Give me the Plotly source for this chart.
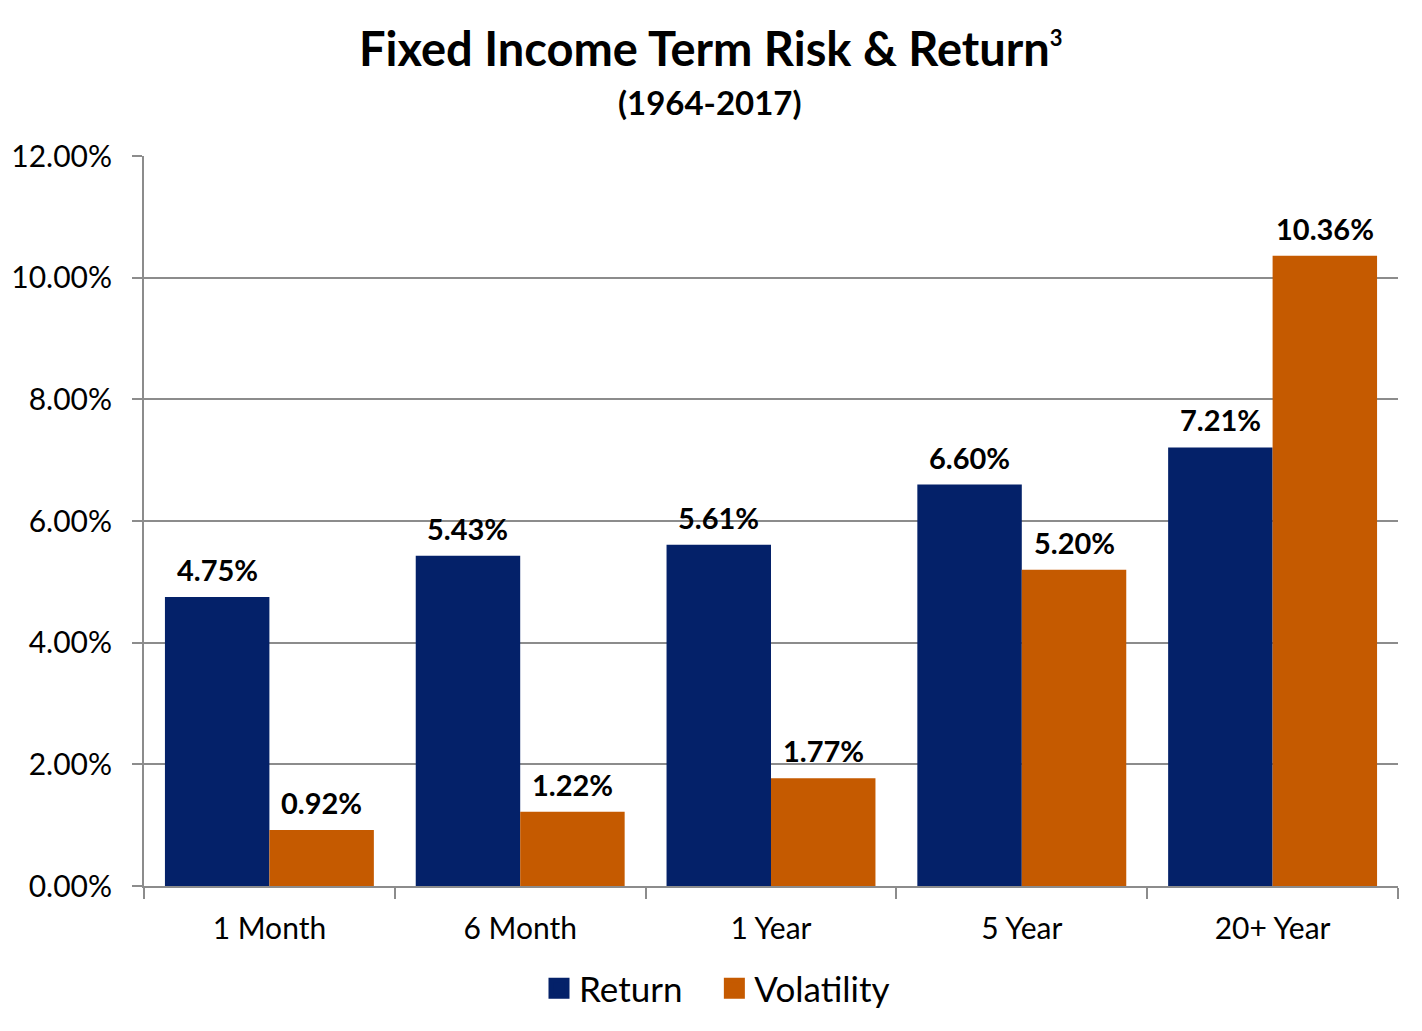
import plotly.graph_objects as go

# chart data
terms = ['1 Month', '6 Month', '1 Year', '5 Year', '20+ Year']
returns = [4.75, 5.43, 5.61, 6.60, 7.21]
volatility = [0.92, 1.22, 1.77, 5.20, 10.36]
y_ticks = [0, 2, 4, 6, 8, 10, 12]

NAVY = '#042169'
ORANGE = '#C55A00'
GRID = '#8C8C8C'
FONT = 'Lato, Carlito, Calibri, sans-serif'

# page body adds ~8px offset, so figure is a bit smaller than the window
W, H = 1414, 1023
M_L, M_R, M_T, M_B = 136, 24, 148, 145
PLOT_W = W - M_L - M_R
PLOT_H = H - M_T - M_B
BARGAP = 0.167
BAR_PX = PLOT_W / len(terms) * (1 - BARGAP) / 2


def paper_x(px):
    return (px - M_L) / PLOT_W


def paper_y(px):
    """Convert a pixel row (from figure top) to paper y coordinate."""
    return (H - M_B - px) / PLOT_H


fig = go.Figure()
series = [('Return', returns, NAVY), ('Volatility', volatility, ORANGE)]
for i, (name, vals, color) in enumerate(series):
    fig.add_trace(go.Bar(
        x=terms, y=vals, name=name,
        marker=dict(color=color, line=dict(width=0)),
        showlegend=False,
    ))
    # bigger square legend keys than plotly's bar swatch;
    # nbsp padding widens the gap between the two entries
    pad = '\u00a0' * 3 if i == 0 else ''
    fig.add_trace(go.Scatter(
        x=[None], y=[None], mode='markers', name=name + pad,
        marker=dict(symbol='square', size=16, color=color,
                    line=dict(width=5, color=color)),
    ))
    # value labels above each bar
    for term, v in zip(terms, vals):
        fig.add_annotation(
            x=term, y=v, text=f'<b>{v:.2f}%</b>',
            xshift=(i - 0.5) * BAR_PX, yshift=8,
            xanchor='center', yanchor='bottom', showarrow=False,
            font=dict(size=29, family=FONT, color='black'),
        )

fig.add_annotation(
    text='<b>Fixed Income Term Risk &amp; Return'
         '<sup><span style="font-size:22px">3</span></sup></b>',
    xref='paper', yref='paper', x=paper_x(703), y=paper_y(40),
    xanchor='center', yanchor='middle', showarrow=False,
    font=dict(size=47, family=FONT, color='black'),
)
fig.add_annotation(
    text='<b>(1964-2017)</b>',
    xref='paper', yref='paper', x=paper_x(702), y=paper_y(94),
    xanchor='center', yanchor='middle', showarrow=False,
    font=dict(size=33, family=FONT, color='black'),
)

fig.update_layout(
    width=W, height=H,
    paper_bgcolor='white', plot_bgcolor='white',
    font=dict(family=FONT, color='black'),
    margin=dict(l=M_L, r=M_R, t=M_T, b=M_B, autoexpand=False),
    barmode='group', bargap=BARGAP, bargroupgap=0,
    legend=dict(
        orientation='h', x=paper_x(709), xanchor='center',
        y=paper_y(951), yanchor='top',
        font=dict(size=35, family=FONT), itemwidth=30,
    ),
)
fig.update_xaxes(
    showline=True, linecolor=GRID, linewidth=2,
    ticks='outside', tickson='boundaries', ticklen=11,
    tickcolor=GRID, tickwidth=2, ticklabelstandoff=15,
    tickfont=dict(size=30, family=FONT),
    showgrid=False,
)
fig.update_yaxes(
    range=[0, 12], tickvals=y_ticks,
    ticktext=[f'{v:.2f}%' for v in y_ticks],
    showline=True, linecolor=GRID, linewidth=2,
    ticks='outside', ticklen=10, tickcolor=GRID, tickwidth=2,
    ticklabelstandoff=14,
    showgrid=True, gridcolor=GRID, gridwidth=2,
    tickfont=dict(size=30, family=FONT),
    zeroline=False,
)

fig.write_html('out.html')
